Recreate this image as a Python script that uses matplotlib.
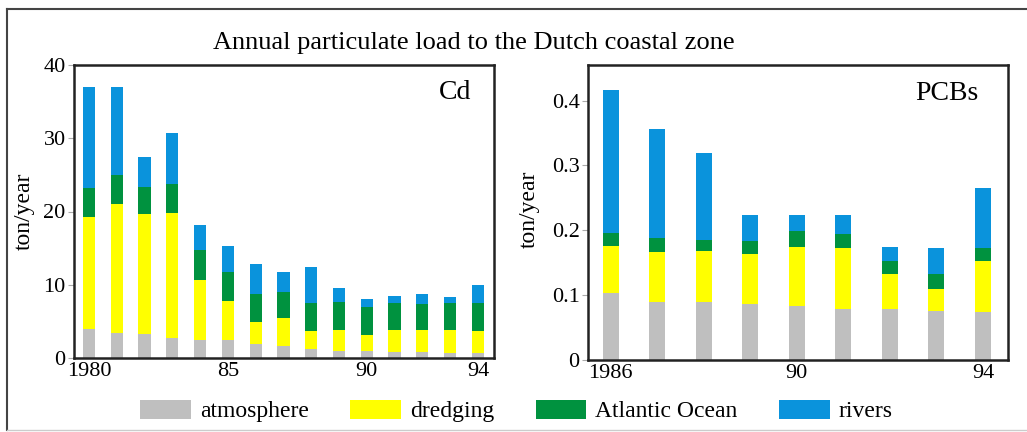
import numpy as np
from matplotlib import pyplot as plt
from matplotlib.patches import Patch
from matplotlib.lines import Line2D

plt.rcParams["font.family"] = ["Liberation Serif", "DejaVu Serif"]

SOURCES = ["atmosphere", "dredging", "Atlantic Ocean", "rivers"]
COLORS = ["#bfbfbf", "#ffff00", "#00923f", "#0a93dc"]

# Cd, ton/year, 1980-1994
cd_years = list(range(1980, 1995))
cd_atmosphere = [3.9, 3.4, 3.3, 2.7, 2.5, 2.4, 1.9, 1.7, 1.2, 0.9, 0.9, 0.8, 0.8, 0.7, 0.7]
cd_dredging = [15.3, 17.6, 16.3, 17.1, 8.2, 5.4, 3.0, 3.7, 2.5, 2.9, 2.3, 3.0, 3.0, 3.1, 3.0]
cd_atlantic = [4.0, 4.0, 3.7, 4.0, 4.1, 3.9, 3.8, 3.6, 3.8, 3.9, 3.8, 3.7, 3.6, 3.7, 3.8]
cd_rivers = [13.8, 12.0, 4.1, 6.9, 3.3, 3.6, 4.2, 2.8, 4.9, 1.8, 1.0, 1.0, 1.4, 0.8, 2.5]

# PCBs, ton/year, 1986-1994
pcb_years = list(range(1986, 1995))
pcb_atmosphere = [0.103, 0.090, 0.089, 0.086, 0.084, 0.079, 0.078, 0.076, 0.074]
pcb_dredging = [0.073, 0.077, 0.079, 0.077, 0.091, 0.094, 0.055, 0.034, 0.079]
pcb_atlantic = [0.020, 0.021, 0.017, 0.021, 0.024, 0.021, 0.020, 0.022, 0.020]
pcb_rivers = [0.221, 0.168, 0.135, 0.039, 0.024, 0.030, 0.022, 0.041, 0.092]

fig = plt.figure(figsize=(10.27, 4.32), dpi=100)
ax1 = fig.add_axes([74 / 1027, 1 - 358 / 432, 420 / 1027, 293 / 432])
ax2 = fig.add_axes([588 / 1027, 1 - 360 / 432, 420 / 1027, 295 / 432])


def stacked(ax, years, layers, width):
    bottom = np.zeros(len(years))
    for vals, c in zip(layers, COLORS):
        ax.bar(years, vals, width, bottom=bottom, color=c, edgecolor="none")
        bottom += np.array(vals)


stacked(ax1, cd_years, [cd_atmosphere, cd_dredging, cd_atlantic, cd_rivers], 0.44)
stacked(ax2, pcb_years, [pcb_atmosphere, pcb_dredging, pcb_atlantic, pcb_rivers], 0.34)

ax1.set_xlim(1979.46, 1994.58)
ax1.set_ylim(0, 40)
ax1.set_yticks([0, 10, 20, 30, 40])
ax1.set_xticks([1980, 1985, 1990, 1994], ["1980", "85", "90", "94"])

ax2.set_xlim(1985.51, 1994.54)
ax2.set_ylim(0, 0.455)
ax2.set_yticks([0, 0.1, 0.2, 0.3, 0.4], ["0", "0.1", "0.2", "0.3", "0.4"])
ax2.set_xticks([1986, 1990, 1994], ["1986", "90", "94"])

for ax in (ax1, ax2):
    for s in ax.spines.values():
        s.set_linewidth(1.8)
        s.set_color("#222222")
    ax.tick_params(axis="y", length=4, width=0.8, color="#aaaaaa", labelsize=16, pad=2)
    ax.tick_params(axis="x", length=0, labelsize=16, pad=3)
    ax.set_ylabel("ton/year", fontsize=17)

ax1.yaxis.set_label_coords(-0.093, 0.5)
ax2.yaxis.set_label_coords(-0.114, 0.51)

ax1.text(0.945, 0.905, "Cd", transform=ax1.transAxes, ha="right", va="center", fontsize=20)
ax2.text(0.93, 0.905, "PCBs", transform=ax2.transAxes, ha="right", va="center", fontsize=20)

fig.text(0.461, 0.9, "Annual particulate load to the Dutch coastal zone",
         ha="center", va="center", fontsize=19)

handles = [Patch(facecolor=c, edgecolor="none") for c in COLORS]
fig.legend(handles, SOURCES, loc="center", bbox_to_anchor=(0.503, 1 - 411 / 432),
           ncol=4, frameon=False, fontsize=17, handlelength=2.15, handleheight=0.85,
           columnspacing=1.75, handletextpad=0.38)

# outer frame
fig.add_artist(Line2D([7 / 1027, 1], [1 - 9 / 432, 1 - 9 / 432], color="#444444", lw=1.5))
fig.add_artist(Line2D([7 / 1027, 7 / 1027], [1 - 9 / 432, 1 - 430 / 432], color="#444444", lw=1.5))
fig.add_artist(Line2D([7 / 1027, 1], [1 - 430 / 432, 1 - 430 / 432], color="#cccccc", lw=1.0))

fig.savefig("out.png", dpi=100)
